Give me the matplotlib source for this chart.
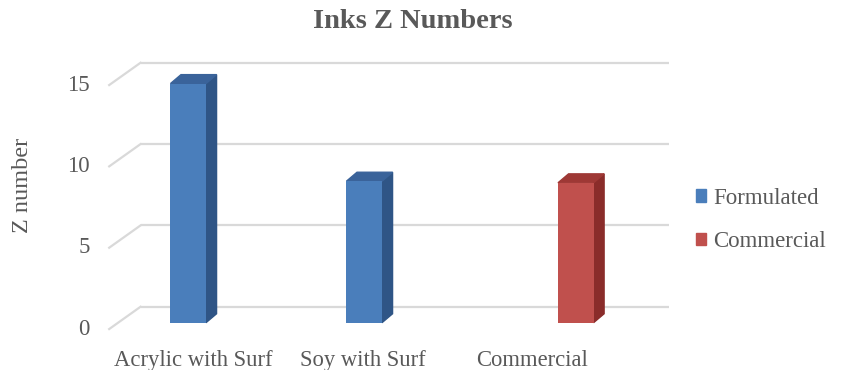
import matplotlib
matplotlib.use("Agg")
import matplotlib.pyplot as plt
from matplotlib.patches import Polygon, Patch

# data
categories = ["Acrylic with Surf", "Soy with Surf", "Commercial"]
series_names = ["Formulated", "Commercial"]
formulated = [14.7, 8.7, 0]
commercial = [0, 0, 8.6]
y_ticks = [0, 5, 10, 15]

plt.rcParams['font.family'] = ['Liberation Serif', 'DejaVu Serif']
txt_color = "#595959"
grid_color = "#d9d9d9"
face = {"Formulated": ("#4a7ebb", "#2f5586", "#3a639a"),
        "Commercial": ("#c0504d", "#8a2c2a", "#9e3835")}

fig = plt.figure(figsize=(8.43, 3.70), dpi=100)
W, H = 843, 370
# axes = plane of the bars' front faces
ax = fig.add_axes([118 / W, 47.3 / H, 528 / W, 244 / H])
ax.set_xlim(-0.5, 2.5)
ax.set_ylim(0, 15)
ax.axis("off")

# depth offsets in data units
bx, by = 0.128, 0.98      # back wall
fx, fy = -0.05, -0.39     # front edge
dx, dy = 0.06, 0.55       # bar depth
bw = 0.202                # bar width

# walls
for v in y_ticks:
    ax.plot([-0.5 + bx, 2.5 + bx], [v + by, v + by], color=grid_color, lw=1.6,
            clip_on=False, zorder=1, solid_capstyle="butt")
    ax.plot([-0.5 + fx, -0.5 + bx], [v + fy, v + by], color=grid_color, lw=1.6,
            clip_on=False, zorder=1)
    ax.text(-0.5 + fx - 0.11, v + fy, str(v), ha="right", va="center",
            fontsize=16.5, color=txt_color)

# bars
for k, (name, vals) in enumerate(zip(series_names, [formulated, commercial])):
    front, side, top = face[name]
    for i, v in enumerate(vals):
        if v == 0:
            continue
        x0 = i - bw + k * bw
        ax.bar(x0, v, width=bw, align="edge", color=front, zorder=3, clip_on=False)
        ax.add_patch(Polygon([(x0 + bw, 0), (x0 + bw, v), (x0 + bw + dx, v + dy),
                              (x0 + bw + dx, dy)], closed=True, color=side,
                             zorder=2, clip_on=False))
        ax.add_patch(Polygon([(x0, v), (x0 + bw, v), (x0 + bw + dx, v + dy),
                              (x0 + dx, v + dy)], closed=True, color=top,
                             zorder=2, clip_on=False))

# category labels (slight perspective shrink at the front)
for i, c in enumerate(categories):
    xl = -0.5 + fx + (i + 0.5) * 0.96
    ax.text(xl, fy - 1.95, c, ha="center", va="center", fontsize=16.3, color=txt_color)

fig.text(413 / W, 1 - 22 / H, "Inks Z Numbers", ha="center", va="center",
         fontsize=20.5, fontweight="bold", color=txt_color)
fig.text(23 / W, 1 - 185 / H, "Z number", ha="center", va="center",
         rotation=90, fontsize=17.5, color=txt_color)

handles = [Patch(color=face[n][0]) for n in series_names]
fig.legend(handles, series_names, loc="center left",
           bbox_to_anchor=(675 / W, 1 - 220 / H), frameon=False, fontsize=16.5,
           handlelength=0.45, handleheight=0.45, handletextpad=0.3,
           labelspacing=1.0, labelcolor=txt_color)

fig.savefig("out.png", dpi=100)
